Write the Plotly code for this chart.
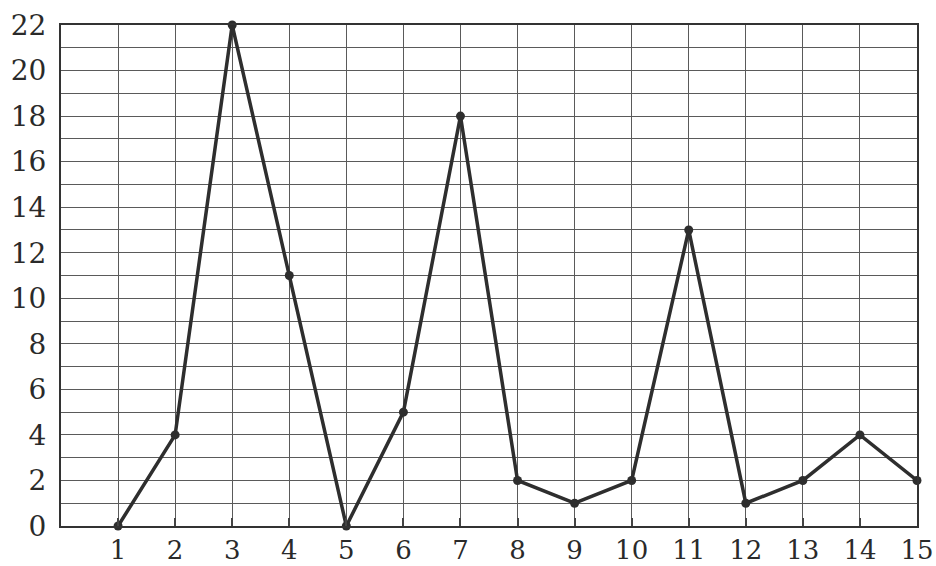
import plotly.graph_objects as go

x_values = list(range(1, 16))
y_values = [0, 4, 22, 11, 0, 5, 18, 2, 1, 2, 13, 1, 2, 4, 2]
x_ticks = list(range(1, 16))
y_ticks = list(range(0, 23, 2))

fig = go.Figure()
fig.add_trace(go.Scatter(
    x=x_values, y=y_values, mode="lines+markers",
    line=dict(color="#2e2e2e", width=3.5),
    marker=dict(color="#2e2e2e", size=9),
    cliponaxis=False, showlegend=False,
))

font = dict(family="DejaVu Serif, Liberation Serif, serif", size=28, color="#2a2a2a")
xfont = dict(family="DejaVu Serif, Liberation Serif, serif", size=26, color="#2a2a2a")
fig.update_layout(
    width=936, height=566,
    margin=dict(l=61, r=19, t=25, b=40, autoexpand=False),
    paper_bgcolor="white", plot_bgcolor="white",
    font=font,
)
fig.update_xaxes(
    range=[0, 15], tickvals=x_ticks, ticktext=[str(v) for v in x_ticks],
    showgrid=True, gridcolor="#5a5a5a", gridwidth=1,
    showline=True, linecolor="#333333", linewidth=2, mirror=True,
    ticks="inside", ticklen=8, tickcolor="#444444", tickwidth=2,
    zeroline=False, tickfont=xfont, automargin=False, ticklabelstandoff=0,
)
fig.update_yaxes(
    range=[0, 22], tickvals=y_ticks, ticktext=[str(v) for v in y_ticks],
    showgrid=True, gridcolor="#5a5a5a", gridwidth=1,
    minor=dict(dtick=1, showgrid=True, gridcolor="#5a5a5a", gridwidth=1),
    showline=True, linecolor="#333333", linewidth=2, mirror=True,
    ticks="", zeroline=False, tickfont=font, ticklabelstandoff=7,
    automargin=False,
)
fig.write_html(
    "out.html",
    config={"displayModeBar": False},
    post_script="document.body.style.margin='0';document.body.style.overflow='hidden';",
)
